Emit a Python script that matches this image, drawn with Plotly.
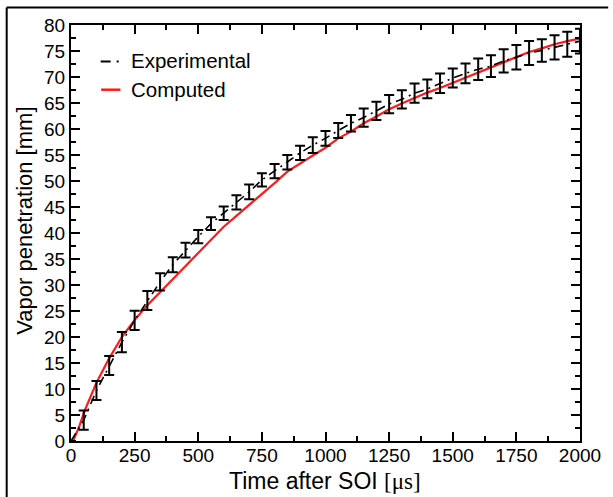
import plotly.graph_objects as go

# Experimental data (time in microseconds, penetration in mm, error in mm)
exp_t = [0, 50, 100, 150, 200, 250, 300, 350, 400, 450, 500, 550, 600, 650, 700,
         750, 800, 850, 900, 950, 1000, 1050, 1100, 1150, 1200, 1250, 1300, 1350,
         1400, 1450, 1500, 1550, 1600, 1650, 1700, 1750, 1800, 1850, 1900, 1950, 2000]
exp_v = [0, 4.0, 9.7, 14.5, 19.0, 23.2, 27.0, 30.6, 33.9, 36.7, 39.3, 41.8, 43.8, 45.9, 47.9,
         50.2, 51.9, 53.6, 55.4, 56.9, 58.2, 59.7, 61.1, 62.2, 63.5, 64.8, 65.7, 66.9,
         67.7, 68.8, 69.8, 70.7, 71.5, 72.1, 73.1, 73.8, 74.6, 75.1, 75.7, 76.3, 76.9]
exp_err = [0, 1.85, 1.83, 1.83, 1.95, 1.83, 1.83, 1.67, 1.45, 1.41, 1.28, 1.22, 1.28, 1.38, 1.41,
           1.28, 1.38, 1.38, 1.38, 1.5, 1.41, 1.44, 1.6, 1.76, 1.76, 1.76, 1.76, 1.86,
           1.8, 1.86, 1.83, 1.92, 2.08, 2.1, 2.24, 2.34, 2.3, 2.15, 2.34, 2.4, 2.4]

# Computed data
comp_t = [8, 30, 55, 100, 150, 200, 250, 300, 350, 400, 450, 500, 550, 600, 650, 700,
          750, 800, 850, 900, 950, 1000, 1050, 1100, 1150, 1200, 1250, 1300, 1350, 1400,
          1450, 1500, 1550, 1600, 1650, 1700, 1750, 1800, 1850, 1900, 1950, 2000]
comp_v = [0, 2.5, 6.0, 11.2, 15.9, 20.0, 23.3, 26.1, 28.6, 31.1, 33.5, 36.2, 38.7, 41.2, 43.3, 45.4,
          47.4, 49.6, 51.8, 53.4, 54.9, 56.4, 58.2, 59.5, 61.1, 62.4, 63.8, 64.9, 66.0, 67.0,
          67.9, 68.9, 69.9, 70.9, 71.9, 72.9, 73.9, 74.8, 75.5, 76.3, 76.9, 77.4]

x_ticks = [0, 250, 500, 750, 1000, 1250, 1500, 1750, 2000]
y_ticks = list(range(0, 81, 5))

W, H = 613, 497
L, R, T, B = 71, 27.5, 24.5, 56
pw, ph = W - L - R, H - T - B

def px(x):
    return (x - L) / pw

def py(y):
    return (H - B - y) / ph

FONT = "Liberation Sans, Arial, Helvetica, sans-serif"

fig = go.Figure()
fig.add_trace(go.Scatter(x=comp_t, y=comp_v, mode="lines",
                         line=dict(color="#ff1a1a", width=2.2),
                         name="Computed", showlegend=False))
fig.add_trace(go.Scatter(x=exp_t, y=exp_v, mode="lines",
                         line=dict(color="black", width=1.6, dash="9px,5px,2px,5px"),
                         error_y=dict(type="data", array=exp_err, visible=True,
                                      color="black", thickness=2, width=5),
                         name="Experimental", showlegend=False))

shapes = [
    # outer frame (top and left)
    dict(type="line", xref="paper", yref="paper", x0=px(6), x1=px(614), y0=py(7), y1=py(7),
         line=dict(color="black", width=2)),
    dict(type="line", xref="paper", yref="paper", x0=px(6), x1=px(6), y0=py(7), y1=py(498),
         line=dict(color="black", width=2)),
    # legend samples
    dict(type="line", xref="paper", yref="paper", x0=px(101), x1=px(121), y0=py(61), y1=py(61),
         line=dict(color="black", width=2, dash="10px,6px,2px,6px")),
    dict(type="line", xref="paper", yref="paper", x0=px(101.5), x1=px(121), y0=py(89.3), y1=py(89.3),
         line=dict(color="#ff1a1a", width=2.5)),
]

annotations = [
    dict(text="Experimental", xref="paper", yref="paper", x=px(130), y=py(60),
         xanchor="left", yanchor="middle", showarrow=False,
         font=dict(family=FONT, size=20.5, color="black")),
    dict(text="Computed", xref="paper", yref="paper", x=px(130), y=py(89),
         xanchor="left", yanchor="middle", showarrow=False,
         font=dict(family=FONT, size=20.5, color="black")),
    dict(text='Time after SOI <span style="font-family:Liberation Serif, Times New Roman, serif">[\u03bcs]</span>',
         xref="paper", yref="paper", x=px(328), y=py(481),
         xanchor="center", yanchor="middle", showarrow=False,
         font=dict(family=FONT, size=23, color="black")),
    dict(text="Vapor penetration [mm]", xref="paper", yref="paper", x=px(24), y=py(221),
         xanchor="center", yanchor="middle", showarrow=False, textangle=-90,
         font=dict(family=FONT, size=22, color="black")),
]

fig.update_layout(
    width=W, height=H,
    margin=dict(l=L, r=R, t=T, b=B),
    paper_bgcolor="white", plot_bgcolor="white",
    shapes=shapes, annotations=annotations,
    showlegend=False,
    font=dict(family=FONT, color="black"),
)
fig.update_xaxes(range=[0, 2000], tickvals=x_ticks, ticktext=[str(v) for v in x_ticks],
                 ticks="inside", ticklen=9, tickwidth=1.5, tickcolor="black",
                 showline=True, linecolor="black", linewidth=2, mirror="allticks",
                 showgrid=False, zeroline=False, ticklabelstandoff=-4,
                 tickfont=dict(family=FONT, size=19, color="black"),
                 minor=dict(dtick=125, tick0=0, ticks="inside", ticklen=5, tickwidth=1.5,
                            tickcolor="black", showgrid=False))
fig.update_yaxes(range=[0, 80], tickvals=y_ticks, ticktext=[str(v) for v in y_ticks],
                 ticks="inside", ticklen=9, tickwidth=1.5, tickcolor="black",
                 showline=True, linecolor="black", linewidth=2, mirror="allticks",
                 showgrid=False, zeroline=False,
                 tickfont=dict(family=FONT, size=19, color="black"),
                 minor=dict(dtick=2.5, tick0=0, ticks="inside", ticklen=5, tickwidth=1.5,
                            tickcolor="black", showgrid=False))

fig.write_html("out.html", config={"displayModeBar": False},
               post_script="document.body.style.margin='0px';document.body.style.padding='0px';")
